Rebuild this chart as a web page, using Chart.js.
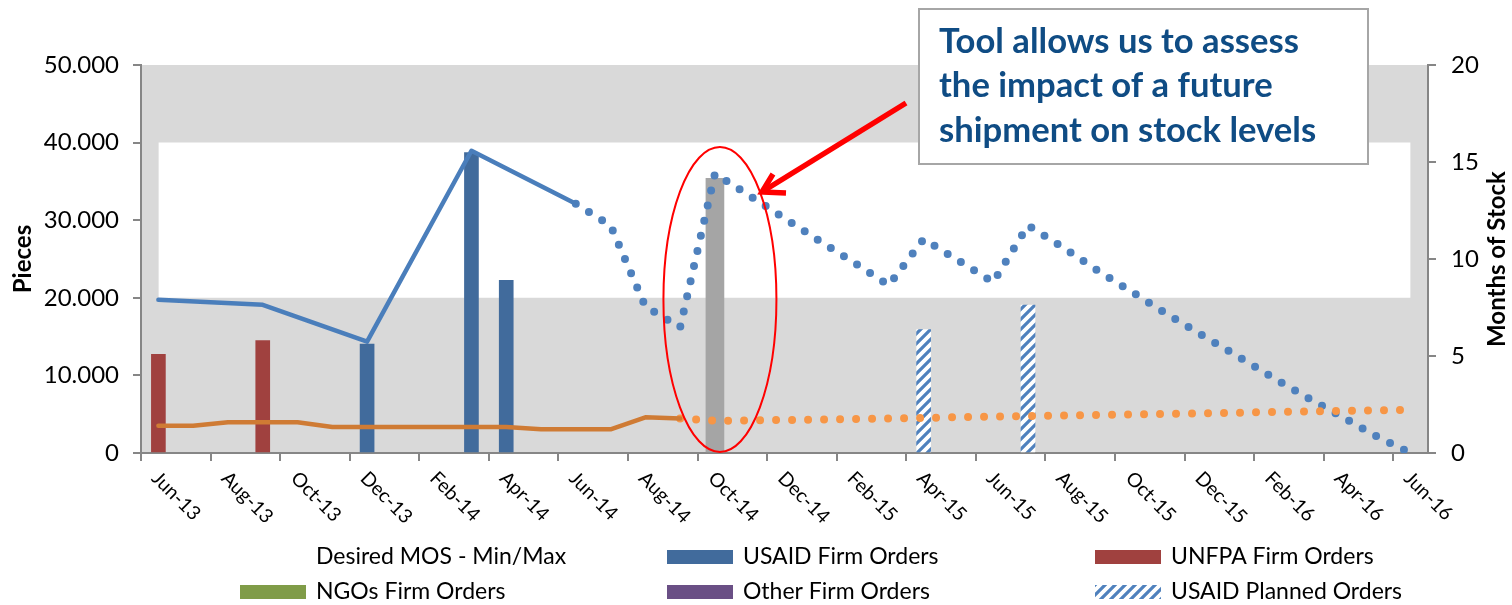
<!DOCTYPE html>
<html><head><meta charset="utf-8">
<script src="https://cdn.jsdelivr.net/npm/chart.js@4.4.1/dist/chart.umd.min.js"></script>
<style>html,body{margin:0;padding:0;background:#fff}#wrap{width:1512px;height:605px;position:relative}</style>
</head><body><div id="wrap"><canvas id="c"></canvas></div>
<script>
const N = null;
const months = ['Jun-13','Jul-13','Aug-13','Sep-13','Oct-13','Nov-13','Dec-13','Jan-14','Feb-14','Mar-14','Apr-14','May-14',
  'Jun-14','Jul-14','Aug-14','Sep-14','Oct-14','Nov-14','Dec-14','Jan-15','Feb-15','Mar-15','Apr-15','May-15',
  'Jun-15','Jul-15','Aug-15','Sep-15','Oct-15','Nov-15','Dec-15','Jan-16','Feb-16','Mar-16','Apr-16','May-16','Jun-16'];
const xTickLabels = ['Jun-13','Aug-13','Oct-13','Dec-13','Feb-14','Apr-14','Jun-14','Aug-14','Oct-14','Dec-14',
  'Feb-15','Apr-15','Jun-15','Aug-15','Oct-15','Dec-15','Feb-16','Apr-16','Jun-16'];
const leftTicks = [0, 10000, 20000, 30000, 40000, 50000];
const rightTicks = [0, 5, 10, 15, 20];

// Desired months of stock band (right axis)
const desiredMosMin = [8,8,8,8,8,8,8,8,8,8,8,8,8,8,8,8,8,8,8,8,8,8,8,8,8,8,8,8,8,8,8,8,8,8,8,8,8];
const desiredMosMax = [16,16,16,16,16,16,16,16,16,16,16,16,16,16,16,16,16,16,16,16,16,16,16,16,16,16,16,16,16,16,16,16,16,16,16,16,16];

// Orders (pieces, left axis)
const usaidFirm   = [N,N,N,N,N,N,14050,N,N,38700,22250];
const unfpaFirm   = [12700,N,N,14500];
const ngosFirm    = [];
const otherFirm   = [];
const usaidPlanned= [N,N,N,N,N,N,N,N,N,N,N,N,N,N,N,N,N,N,N,N,N,N,15900,N,N,19050];
const futureShipment = [N,N,N,N,N,N,N,N,N,N,N,N,N,N,N,N,35400];

// Months of stock (right axis)
const mosActual    = [7.90,N,N,7.64,N,N,5.74,N,N,15.58,N,N,12.85];
const mosProjected = [N,N,N,N,N,N,N,N,N,N,N,N,12.85,11.73,7.55,6.48,14.40,13.26,12.10,10.94,9.81,8.65,11.03,9.92,8.81,11.73,10.60,9.41,8.29,7.16,6.08,5.02,3.93,2.89,1.89,0.88,0];

// Consumption (pieces, left axis)
const consActual    = [3500,3500,3950,3950,3950,3350,3350,3350,3350,3350,3350,3050,3050,3050,4600,4450];
const consProjected = [N,N,N,N,N,N,N,N,N,N,N,N,N,N,N,4450,4150,N,4250,N,4380,N,N,N,4680,N,N,N,4970,N,N,N,5270,N,N,N,5580];

const FONT = 'Lato, "Open Sans", sans-serif';
const canvas = document.getElementById('c');
const mainCtx = canvas.getContext('2d');

function makeHatch(){
  const c = document.createElement('canvas'); c.width = 10; c.height = 10;
  const g = c.getContext('2d');
  g.fillStyle = '#ffffff'; g.fillRect(0,0,10,10);
  g.strokeStyle = '#4F81BD'; g.lineWidth = 3.2;
  g.beginPath();
  g.moveTo(-3,13); g.lineTo(13,-3);
  g.moveTo(-3,3); g.lineTo(3,-3);
  g.moveTo(7,13); g.lineTo(13,7);
  g.stroke();
  return mainCtx.createPattern(c,'repeat');
}
const hatch = makeHatch();

const COL = {usaid:'#416B9C', unfpa:'#A0413F', ngo:'#809C48', other:'#6A4F85', gray:'#A5A5A5',
  blue:'#4A7EBB', blueDot:'#4F81BD', orange:'#CF7B34', orangeDot:'#F79646', axis:'#868686'};

const bgPlugin = {
  id:'bg',
  beforeDraw(chart){
    const {ctx, chartArea:a} = chart;
    ctx.save(); ctx.fillStyle = '#D9D9D9';
    ctx.fillRect(a.left, a.top, a.right-a.left, a.bottom-a.top);
    ctx.restore();
  }
};

const legendItems = [
  {label:'Desired MOS - Min/Max', fill:'#FFFFFF', col:0, row:0},
  {label:'USAID Firm Orders', fill:COL.usaid, col:1, row:0},
  {label:'UNFPA Firm Orders', fill:COL.unfpa, col:2, row:0},
  {label:'NGOs Firm Orders', fill:COL.ngo, col:0, row:1},
  {label:'Other Firm Orders', fill:COL.other, col:1, row:1},
  {label:'USAID Planned Orders', fill:hatch, col:2, row:1}
];

const decoPlugin = {
  id:'deco',
  afterDraw(chart){
    const ctx = chart.ctx, xs = chart.scales.x, a = chart.chartArea;
    ctx.save();
    // x tick labels, rotated clockwise, starting at each 2-month tick
    const catW = (a.right - a.left) / months.length;
    ctx.font = '19.5px ' + FONT; ctx.fillStyle = '#000';
    ctx.textAlign = 'left'; ctx.textBaseline = 'middle';
    xTickLabels.forEach((lab, k) => {
      const bx = xs.getPixelForValue(k*2) - catW/2;
      ctx.save();
      ctx.translate(bx + 14, a.bottom + 22);
      ctx.rotate(Math.PI/4);
      ctx.fillText(lab, 0, 0);
      ctx.restore();
    });
    // axis titles
    ctx.font = 'bold 24px ' + FONT; ctx.textAlign = 'center'; ctx.textBaseline = 'middle';
    const midY = (a.top + a.bottom)/2;
    ctx.save(); ctx.translate(23, midY); ctx.rotate(-Math.PI/2); ctx.fillText('Pieces',0,0); ctx.restore();
    ctx.save(); ctx.translate(1497, midY); ctx.rotate(-Math.PI/2); ctx.fillText('Months of Stock',0,0); ctx.restore();
    // legend
    const colX = [240, 667, 1095], rowY = [557, 592];
    ctx.font = '23px ' + FONT; ctx.textAlign = 'left'; ctx.textBaseline = 'middle';
    legendItems.forEach(it => {
      const x = colX[it.col], y = rowY[it.row];
      ctx.fillStyle = it.fill; ctx.fillRect(x, y-7, 66, 14);
      ctx.fillStyle = '#000'; ctx.fillText(it.label, x + 76, y);
    });
    // red ellipse
    const cx = xs.getPixelForValue(16) + 5;
    ctx.strokeStyle = '#FF0000'; ctx.lineWidth = 2;
    ctx.beginPath(); ctx.ellipse(cx, 299.5, 56.5, 152.5, 0, 0, Math.PI*2); ctx.stroke();
    // arrow
    ctx.lineWidth = 5.5; ctx.lineCap = 'butt'; ctx.lineJoin = 'miter';
    ctx.beginPath(); ctx.moveTo(906, 103); ctx.lineTo(765, 190); ctx.stroke();
    ctx.beginPath(); ctx.moveTo(786, 193); ctx.lineTo(762, 192); ctx.lineTo(773, 174); ctx.stroke();
    // annotation box
    ctx.fillStyle = '#FFFFFF'; ctx.fillRect(919, 9, 449, 155);
    ctx.strokeStyle = '#A6A6A6'; ctx.lineWidth = 2; ctx.strokeRect(919, 9, 449, 155);
    const lines = ['Tool allows us to assess', 'the impact of a future', 'shipment on stock levels'];
    ctx.font = 'bold 34px ' + FONT;
    const w0 = ctx.measureText(lines[0]).width;
    const fs = 34 * 360 / w0;
    ctx.font = 'bold ' + fs.toFixed(2) + 'px ' + FONT;
    ctx.fillStyle = '#0F4C84'; ctx.textAlign = 'left'; ctx.textBaseline = 'alphabetic';
    [53, 97, 142].forEach((by, i) => ctx.fillText(lines[i], 939, by));
    ctx.restore();
  }
};

const barBase = {type:'bar', grouped:false, barThickness:14, borderWidth:0, yAxisID:'y', order:1};

new Chart(canvas, {
  type:'bar',
  data:{
    labels: months,
    datasets:[
      {type:'line', label:'Desired MOS min', data:desiredMosMin, yAxisID:'y1', borderColor:'rgba(0,0,0,0)', pointRadius:0, fill:false, order:3},
      {type:'line', label:'Desired MOS - Min/Max', data:desiredMosMax, yAxisID:'y1', borderColor:'rgba(0,0,0,0)', backgroundColor:'#FFFFFF', pointRadius:0, fill:'-1', order:3},
      {...barBase, label:'Future shipment', data:futureShipment, backgroundColor:COL.gray, barThickness:18},
      {...barBase, label:'USAID Firm Orders', data:usaidFirm, backgroundColor:COL.usaid},
      {...barBase, label:'UNFPA Firm Orders', data:unfpaFirm, backgroundColor:COL.unfpa},
      {...barBase, label:'NGOs Firm Orders', data:ngosFirm, backgroundColor:COL.ngo},
      {...barBase, label:'Other Firm Orders', data:otherFirm, backgroundColor:COL.other},
      {...barBase, label:'USAID Planned Orders', data:usaidPlanned, backgroundColor:hatch},
      {type:'line', label:'Consumption', data:consActual, yAxisID:'y', borderColor:COL.orange, borderWidth:4.5, pointRadius:0, spanGaps:true, borderCapStyle:'round', borderJoinStyle:'round', fill:false, order:0},
      {type:'line', label:'Consumption projected', data:consProjected, yAxisID:'y', borderColor:COL.orangeDot, borderWidth:8, borderDash:[0,16], borderCapStyle:'round', pointRadius:0, spanGaps:true, fill:false, order:0},
      {type:'line', label:'MOS', data:mosActual, yAxisID:'y1', borderColor:COL.blue, borderWidth:4.5, pointRadius:0, spanGaps:true, borderCapStyle:'round', borderJoinStyle:'round', fill:false, order:0},
      {type:'line', label:'MOS projected', data:mosProjected, yAxisID:'y1', borderColor:COL.blueDot, borderWidth:8, borderDash:[0,15.5], borderCapStyle:'round', pointRadius:0, spanGaps:true, fill:false, order:0}
    ]
  },
  options:{
    responsive:true, maintainAspectRatio:false, animation:false, events:[],
    layout:{padding:{top:65, left:0, right:0, bottom:0}},
    plugins:{legend:{display:false}, tooltip:{enabled:false}, title:{display:false}},
    scales:{
      x:{
        type:'category', offset:true,
        grid:{offset:true, drawOnChartArea:false, drawTicks:true, tickLength:8, lineWidth:2,
          color:(c)=> (c.index % 2 === 0 ? COL.axis : 'rgba(0,0,0,0)')},
        border:{display:true, color:COL.axis, width:2},
        ticks:{display:false, autoSkip:false},
        afterFit(s){ s.height = 152; }
      },
      y:{
        position:'left', min:leftTicks[0], max:leftTicks[leftTicks.length-1],
        afterBuildTicks(s){ s.ticks = leftTicks.map(v=>({value:v})); },
        grid:{drawOnChartArea:false, drawTicks:true, tickLength:8, color:COL.axis, lineWidth:2},
        border:{display:true, color:COL.axis, width:2},
        ticks:{color:'#000', padding:14, font:{family:FONT, size:24},
          callback:(v)=> v===0 ? '0' : (v/1000) + '.000'},
        afterFit(s){ s.width = 141; }
      },
      y1:{
        position:'right', min:rightTicks[0], max:rightTicks[rightTicks.length-1],
        afterBuildTicks(s){ s.ticks = rightTicks.map(v=>({value:v})); },
        grid:{drawOnChartArea:false, drawTicks:true, tickLength:8, color:COL.axis, lineWidth:2},
        border:{display:true, color:COL.axis, width:2},
        ticks:{color:'#000', padding:15, font:{family:FONT, size:24}},
        afterFit(s){ s.width = 84; }
      }
    }
  },
  plugins:[bgPlugin, decoPlugin]
});
</script>
</body></html>
